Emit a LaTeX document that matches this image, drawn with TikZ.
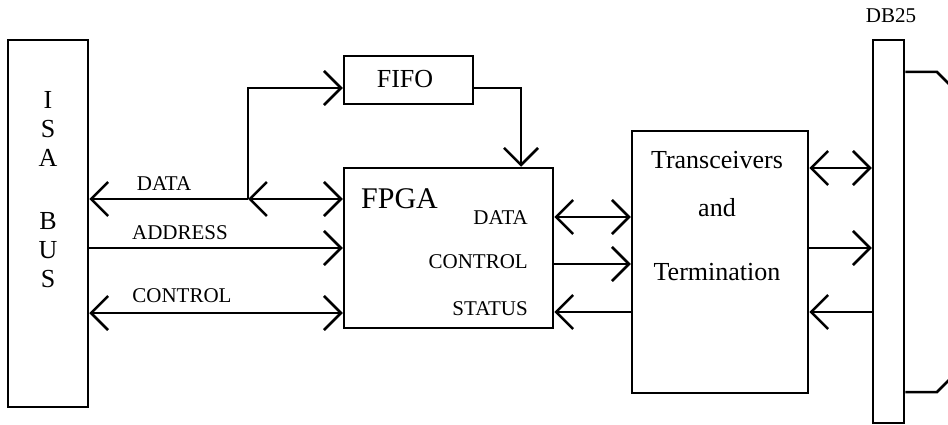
\documentclass[tikz,border=0pt]{standalone}
\usepackage{fontspec}
\setmainfont{Liberation Serif}
\usetikzlibrary{arrows.meta}
\tikzset{
  >={Straight Barb[length=17pt,width=34pt]},
  box/.style={draw,line width=2.5pt,inner sep=0pt,rectangle},
  wire/.style={line width=2.5pt},
  lab/.style={inner sep=0pt,anchor=base,font=\fontsize{21}{24}\selectfont},
  big/.style={inner sep=0pt,anchor=base,font=\fontsize{26}{29}\selectfont},
}
\begin{document}
\begin{tikzpicture}[x=1pt,y=-1pt]
\useasboundingbox (0,0) rectangle (948,425);
% boxes
\node[box,minimum width=80pt,minimum height=367pt] (isa) at (48,223.5) {};
\node[box,minimum width=129pt,minimum height=48pt] (fifo) at (408.5,80) {};
\node[box,minimum width=209pt,minimum height=160pt] (fpga) at (448.5,248) {};
\node[box,minimum width=176pt,minimum height=262pt] (trans) at (720,262) {};
\node[box,minimum width=31pt,minimum height=383pt] (db) at (888.5,231.5) {};
% texts
\node[big,align=center,anchor=center] (isat) at (48,190) {I\\S\\A\\[34pt]B\\U\\S};
\node[big] (fifot) at (405,88) {FIFO};
\node[inner sep=0pt,anchor=base west,font=\fontsize{30}{34}\selectfont] (fpgat) at (361,208) {FPGA};
\node[big] (tr1) at (717,168) {Transceivers};
\node[big] (tr2) at (717,216) {and};
\node[big] (tr3) at (717,280) {Termination};
\node[lab] (dbt) at (891,23) {DB25};
\node[lab] (l1) at (164,190) {DATA};
\node[lab] (l2) at (180,239) {ADDRESS};
\node[lab] (l3) at (182,302) {CONTROL};
\node[lab,anchor=base east] (f1) at (528,224) {DATA};
\node[lab,anchor=base east] (f2) at (528,268) {CONTROL};
\node[lab,anchor=base east] (f3) at (528,315) {STATUS};
% levels
\coordinate (ya) at (0,199);
\coordinate (yb) at (0,248);
\coordinate (yc) at (0,313);
\coordinate (yd) at (0,217);
\coordinate (ye) at (0,264);
\coordinate (yf) at (0,312);
\coordinate (yg) at (0,168);
\coordinate (br) at (248,199);
\coordinate (bt) at (248,88);
\coordinate (fc) at (521,88);
% ISA <-> FPGA
\draw[wire,<-] (isa.east |- ya) -- (br);
\draw[wire,<->] (br) -- (fpga.west |- ya);
\draw[wire,->] (isa.east |- yb) -- (fpga.west |- yb);
\draw[wire,<->] (isa.east |- yc) -- (fpga.west |- yc);
% FIFO path
\draw[wire,->] (br) -- (bt) -- (fifo.west |- bt);
\draw[wire,->] (fifo.east |- fc) -- (fc) -- (fc |- fpga.north);
% FPGA <-> Trans
\draw[wire,<->] (fpga.east |- yd) -- (trans.west |- yd);
\draw[wire,->] (fpga.east |- ye) -- (trans.west |- ye);
\draw[wire,<-] (fpga.east |- yf) -- (trans.west |- yf);
% Trans <-> DB25
\draw[wire,<->] (trans.east |- yg) -- (db.west |- yg);
\draw[wire,->] (trans.east |- yb) -- (db.west |- yb);
\draw[wire,<-] (trans.east |- yf) -- (db.west |- yf);
% DB25 shell
\coordinate (s1) at (937,72);
\coordinate (s2) at (949,84);
\coordinate (s3) at (937,392);
\coordinate (s4) at (949,380);
\draw[wire] (db.east |- s1) -- (s1) -- (s2);
\draw[wire] (db.east |- s3) -- (s3) -- (s4);
\end{tikzpicture}
\end{document}
